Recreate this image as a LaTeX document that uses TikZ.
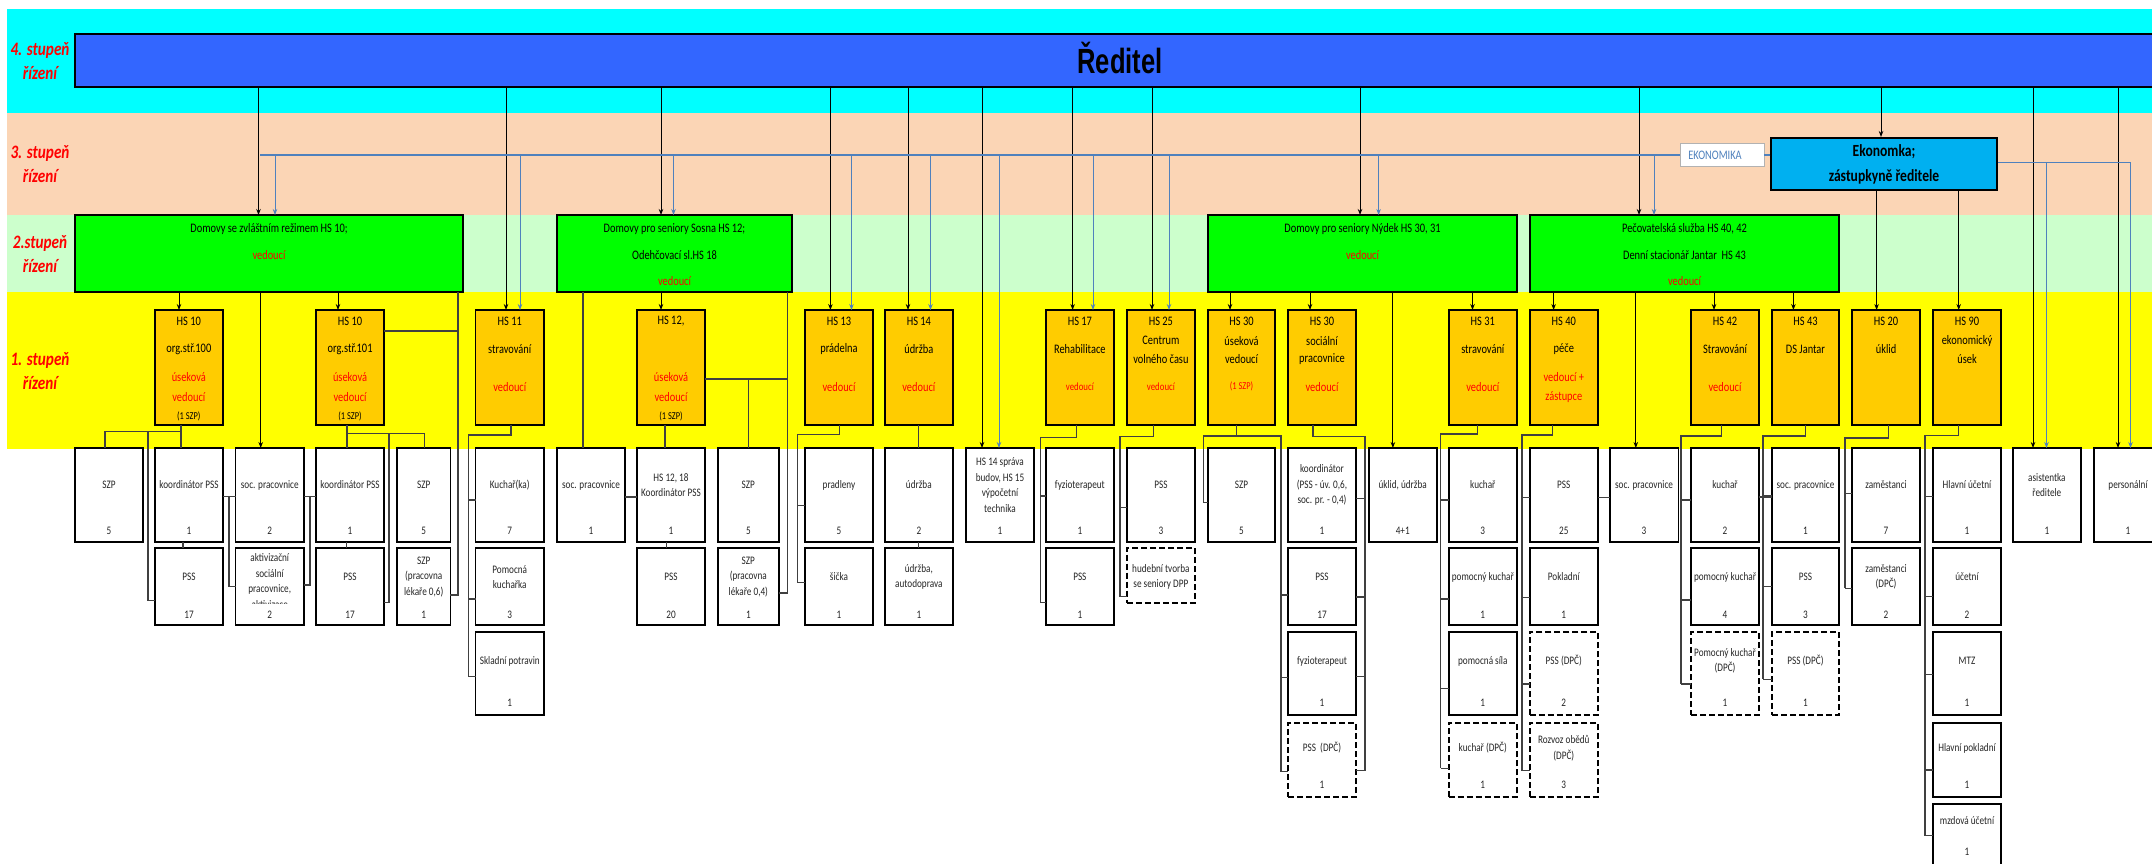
\documentclass[tikz,border=0pt]{standalone}
\usepackage{fontspec}
\setmainfont{Carlito}[FakeStretch=0.8]
\newfontfamily\rfont{Liberation Sans}[FakeStretch=0.73]
\usetikzlibrary{arrows.meta,calc}
\definecolor{cyb}{HTML}{00FFFF}
\definecolor{peach}{HTML}{FBD5B5}
\definecolor{lgr}{HTML}{CCFFCC}
\definecolor{yel}{HTML}{FFFF00}
\definecolor{dirb}{HTML}{3366FF}
\definecolor{grn}{HTML}{00FF00}
\definecolor{org}{HTML}{FFCC00}
\definecolor{ekb}{HTML}{00B0F0}
\definecolor{bluec}{HTML}{4F81BD}
\definecolor{txtg}{HTML}{262626}
\newcommand\rowdata[1]{\ifcase#1\or
 \def\rYa{448}\def\rYb{542}\def\rLy{485}\def\rCy{531}\or
 \def\rYa{548}\def\rYb{625}\def\rLy{577}\def\rCy{615}\or
 \def\rYa{632}\def\rYb{715}\def\rLy{661}\def\rCy{703}\or
 \def\rYa{723}\def\rYb{797}\def\rLy{748}\def\rCy{785}\or
 \def\rYa{804}\def\rYb{874}\def\rLy{821}\def\rCy{852}\fi}
\newcommand\WB[7][]{\rowdata{#5}%
 \node[wbox,#1,minimum width={#4-#3},minimum height={\rYb-\rYa}] (#2) at ({(#3+#4)/2},{(\rYa+\rYb)/2}) {};
 \node[wl] (#2l) at ({(#3+#4)/2},\rLy) {#6};
 \node[wl] (#2c) at ({(#3+#4)/2},\rCy) {#7};}
\newcommand\OB[3]{\node[obox,minimum width={#3-#2}] (#1) at ({(#2+#3)/2},367.5) {};}
\newcommand\OL[4][]{\node[otx,#1] at ($(#2.north)+(0,#3)$) {#4};}
\newcommand\trunk[6]{\draw[cn] (#2,0 |- #1.south) |- (#4,#3) -- (#4,#5);
 \foreach \qy/\qt/\qa in {#6} {\draw[cn] (#4,\qy) -- (\qt.\qa |- 0,\qy);}}
\begin{document}
\begin{tikzpicture}[x=1pt,y=-1pt,
 wbox/.style={draw=black,line width=1.8pt,fill=white,inner sep=0pt,outer sep=0pt},
 dbox/.style={dash pattern=on 6pt off 3pt},
 obox/.style={draw=black,line width=1.8pt,fill=org,minimum height=115,inner sep=0pt,outer sep=0pt},
 gbox/.style={draw=black,line width=2pt,fill=grn,minimum height=77,inner sep=0pt,outer sep=0pt},
 wl/.style={inner sep=0pt,align=center,text=txtg,font=\fontsize{11.5}{15.5}\selectfont},
 otx/.style={inner sep=0pt,text=black,font=\fontsize{13}{15}\selectfont},
 gtx/.style={inner sep=0pt,text=black,font=\fontsize{13}{15}\selectfont},
 rd/.style={text=red},
 sm/.style={font=\fontsize{10.5}{12}\selectfont},
 smr/.style={text=red,font=\fontsize{11}{12}\selectfont},
 bandl/.style={inner sep=0pt,align=center,text=red,font=\fontsize{19}{24}\selectfont\bfseries\itshape},
 cn/.style={draw=black!75,line width=1.1pt},
 ar/.style={draw=black,line width=0.9pt,-{Stealth[length=6pt,width=4.5pt]}},
 bar/.style={draw=bluec,line width=0.9pt,-{Stealth[length=6pt,width=4.5pt]}},
 bl/.style={draw=bluec,line width=1pt}]
\useasboundingbox (0,0) rectangle (2152,864);
\clip (0,0) rectangle (2152,864);
% bands
\fill[cyb] (7,9) rectangle (2152,113);
\fill[peach] (7,113) rectangle (2152,215);
\fill[lgr] (7,215) rectangle (2152,292);
\fill[yel] (7,292) rectangle (2152,449);
\node[bandl] (l4) at (40,61.5) {4. stupeň\\řízení};
\node[bandl] (l3) at (40,164.5) {3. stupeň\\řízení};
\node[bandl] (l2) at (40,254.5) {2.stupeň\\řízení};
\node[bandl] (l1) at (40,371.5) {1. stupeň\\řízení};
% director
\node[draw=black,line width=2pt,fill=dirb,minimum width=2090,minimum height=53,inner sep=0pt] (dir) at (1120,60.5) {};
\node[anchor=base,inner sep=0pt,font=\rfont\bfseries\fontsize{35}{40}\selectfont] (dirt) at (1120,74) {Ředitel};
% ekonomka
\node[draw=black,line width=2pt,fill=ekb,minimum width=225.5,minimum height=52,inner sep=0pt,align=center,font=\bfseries\fontsize{17}{25}\selectfont] (ek) at (1884,164) {Ekonomka;\\zástupkyně ředitele};
\node[draw=black!30,line width=0.8pt,fill=white,minimum width=84,minimum height=23,inner sep=0pt] (ekl) at (1722,154.5) {};
\node[inner sep=0pt,text=bluec,font=\fontsize{13}{15}\selectfont] (eklt) at (1715,155) {EKONOMIKA};
% green boxes
\node[gbox,minimum width=388] (g1) at (269,253.5) {};
\node[gbox,minimum width=235] (g2) at (674.5,253.5) {};
\node[gbox,minimum width=309] (g3) at (1362.5,253.5) {};
\node[gbox,minimum width=309] (g4) at (1684.5,253.5) {};
\node[gtx] (g1a) at (269,229) {Domovy se zvláštním režimem HS 10;};
\node[gtx,rd] (g1b) at (269,255) {vedoucí};
\node[gtx] (g2a) at (674.5,229) {Domovy pro seniory Sosna HS 12;};
\node[gtx] (g2b) at (674.5,255) {Odehčovací sl.HS 18};
\node[gtx,rd] (g2c) at (674.5,281) {vedoucí};
\node[gtx] (g3a) at (1362.5,229) {Domovy pro seniory Nýdek HS 30, 31};
\node[gtx,rd] (g3b) at (1362.5,255) {vedoucí};
\node[gtx] (g4a) at (1684.5,229) {Pečovatelská služba HS 40, 42};
\node[gtx] (g4b) at (1684.5,255) {Denní stacionář Jantar~ HS 43};
\node[gtx,rd] (g4c) at (1684.5,281) {vedoucí};
% orange boxes
\OB{o1}{154.6}{223}
\OL{o1}{11}{HS 10}\OL{o1}{39}{org.stř.100}\OL[rd]{o1}{66.7}{úseková}\OL[rd]{o1}{86.7}{vedoucí}\OL[sm]{o1}{106}{(1 SZP)}
\OB{o2}{315.8}{384.3}
\OL{o2}{11}{HS 10}\OL{o2}{39}{org.stř.101}\OL[rd]{o2}{66.7}{úseková}\OL[rd]{o2}{86.7}{vedoucí}\OL[sm]{o2}{106}{(1 SZP)}
\OB{o3}{475.5}{544}
\OL{o3}{11}{HS 11}\OL{o3}{39}{stravování}\OL[rd]{o3}{76.7}{vedoucí}
\OB{o4}{637}{705}
\OL{o4}{11}{HS 12,}\OL[rd]{o4}{66.7}{úseková}\OL[rd]{o4}{86.7}{vedoucí}\OL[sm]{o4}{106}{(1 SZP)}
\OB{o5}{805}{873}
\OL{o5}{11}{HS 13}\OL{o5}{39}{prádelna}\OL[rd]{o5}{76.7}{vedoucí}
\OB{o6}{884.7}{953}
\OL{o6}{11}{HS 14}\OL{o6}{39}{údržba}\OL[rd]{o6}{76.7}{vedoucí}
\OB{o7}{1045.7}{1114}
\OL{o7}{11}{HS 17}\OL{o7}{39}{Rehabilitace}\OL[smr]{o7}{76.7}{vedoucí}
\OB{o8}{1126.8}{1195}
\OL{o8}{11}{HS 25}\OL{o8}{30.7}{Centrum}\OL{o8}{49.3}{volného času}\OL[smr]{o8}{76.7}{vedoucí}
\OB{o9}{1208}{1275}
\OL{o9}{11}{HS 30}\OL{o9}{30.7}{úseková}\OL{o9}{49.3}{vedoucí}\OL[sm,rd]{o9}{76.7}{(1 SZP)}
\OB{o10}{1288}{1356}
\OL{o10}{11}{HS 30}\OL{o10}{30.7}{sociální}\OL{o10}{49.3}{pracovnice}\OL[rd]{o10}{76.7}{vedoucí}
\OB{o11}{1448.6}{1517}
\OL{o11}{11}{HS 31}\OL{o11}{39}{stravování}\OL[rd]{o11}{76.7}{vedoucí}
\OB{o12}{1529.6}{1598}
\OL{o12}{11}{HS 40}\OL{o12}{39}{péče}\OL[rd]{o12}{66.7}{vedoucí +}\OL[rd]{o12}{86.7}{zástupce}
\OB{o13}{1691}{1759}
\OL{o13}{11}{HS 42}\OL{o13}{39}{Stravování}\OL[rd]{o13}{76.7}{vedoucí}
\OB{o14}{1772}{1839}
\OL{o14}{11}{HS 43}\OL{o14}{39}{DS Jantar}
\OB{o15}{1852}{1920}
\OL{o15}{11}{HS 20}\OL{o15}{39}{úklid}
\OB{o16}{1933}{2001}
\OL{o16}{11}{HS 90}\OL{o16}{30.7}{ekonomický}\OL{o16}{49.3}{úsek}
% white boxes row 1
\WB{w1}{75}{143}{1}{SZP}{5}
\WB{w2}{155}{223}{1}{koordinátor PSS}{1}
\WB{w3}{235.5}{304}{1}{soc. pracovnice}{2}
\WB{w4}{316}{384}{1}{koordinátor PSS}{1}
\WB{w5}{397}{450.4}{1}{SZP}{5}
\WB{w6}{475.5}{544}{1}{Kuchař(ka)}{7}
\WB{w7}{557}{625}{1}{soc. pracovnice}{1}
\WB{w8}{637}{705}{1}{HS 12, 18\\Koordinátor PSS}{1}
\WB{w9}{717.7}{779}{1}{SZP}{5}
\WB{w10}{805}{873}{1}{pradleny}{5}
\WB{w11}{884.7}{953}{1}{údržba}{2}
\WB{w12}{966}{1034}{1}{HS 14 správa\\budov, HS 15\\výpočetní\\technika}{1}
\WB{w13}{1045.7}{1114}{1}{fyzioterapeut}{1}
\WB{w14}{1126.8}{1195}{1}{PSS}{3}
\WB{w15}{1208}{1275}{1}{SZP}{5}
\WB{w16}{1288}{1356}{1}{koordinátor\\(PSS - úv. 0,6,\\soc. pr. - 0,4)}{1}
\WB{w17}{1368.6}{1436.8}{1}{úklid, údržba}{4+1}
\WB{w18}{1448.6}{1517}{1}{kuchař}{3}
\WB{w19}{1529.6}{1598}{1}{PSS}{25}
\WB{w20}{1609.6}{1678.5}{1}{soc. pracovnice}{3}
\WB{w21}{1691}{1759}{1}{kuchař}{2}
\WB{w22}{1772}{1839}{1}{soc. pracovnice}{1}
\WB{w23}{1852}{1920}{1}{zaměstanci}{7}
\WB{w24}{1933}{2001}{1}{Hlavní účetní}{1}
\WB{w25}{2012.7}{2081}{1}{asistentka\\ředitele}{1}
\WB{w26}{2094}{2162}{1}{personální}{1}
% row 2
\WB{v1}{155}{223}{2}{PSS}{17}
\WB{v2}{235.5}{304}{2}{}{2}
\begin{scope}
\clip (235.5,549) rectangle (304,603);
\node[wl] (v2t) at (269.75,581) {aktivizační\\sociální\\pracovnice,\\aktivizace};
\end{scope}
\WB{v3}{316}{384}{2}{PSS}{17}
\WB{v4}{397}{450.4}{2}{SZP\\(pracovna\\lékaře 0,6)}{1}
\WB{v5}{475.5}{544}{2}{Pomocná\\kuchařka}{3}
\WB{v6}{637}{705}{2}{PSS}{20}
\WB{v7}{717.7}{779}{2}{SZP\\(pracovna\\lékaře 0,4)}{1}
\WB{v8}{805}{873}{2}{šička}{1}
\WB{v9}{884.7}{953}{2}{údržba,\\autodoprava}{1}
\WB{v10}{1045.7}{1114}{2}{PSS}{1}
\node[wbox,dbox,minimum width=68.2,minimum height=55] (v11) at (1160.9,575.5) {};
\node[wl] (v11l) at (1160.9,576.7) {hudební tvorba\\se seniory DPP};
\WB{v12}{1288}{1356}{2}{PSS}{17}
\WB{v13}{1448.6}{1517}{2}{pomocný kuchař}{1}
\WB{v14}{1529.6}{1598}{2}{Pokladní}{1}
\WB{v15}{1691}{1759}{2}{pomocný kuchař}{4}
\WB{v16}{1772}{1839}{2}{PSS}{3}
\WB{v17}{1852}{1920}{2}{zaměstanci\\(DPČ)}{2}
\WB{v18}{1933}{2001}{2}{účetní}{2}
% row 3
\WB{u1}{475.5}{544}{3}{Skladní potravin}{1}
\WB{u2}{1288}{1356}{3}{fyzioterapeut}{1}
\WB{u3}{1448.6}{1517}{3}{pomocná síla}{1}
\WB[dbox]{u4}{1529.6}{1598}{3}{PSS (DPČ)}{2}
\WB[dbox]{u5}{1691}{1759}{3}{Pomocný kuchař\\(DPČ)}{1}
\WB[dbox]{u6}{1772}{1839}{3}{PSS (DPČ)}{1}
\WB{u7}{1933}{2001}{3}{MTZ}{1}
% row 4
\WB[dbox]{t1}{1288}{1356}{4}{PSS~ (DPČ)}{1}
\WB[dbox]{t2}{1448.6}{1517}{4}{kuchař (DPČ)}{1}
\WB[dbox]{t3}{1529.6}{1598}{4}{Rozvoz obědů\\(DPČ)}{3}
\WB{t4}{1933}{2001}{4}{Hlavní pokladní}{1}
% row 5
\WB{s1}{1933}{2001}{5}{mzdová účetní}{1}
% director arrows
\foreach \x/\nd in {258.5/g1,506/o3,661/g2,830.4/o5,908/o6,982/w12,1072.6/o7,1152/o8,1360/g3,1639/g4,1881/ek,2033/w25,2118/w26}
 {\draw[ar] (\x,0 |- dir.south) -- (\x,0 |- \nd.north);}
% ekonomika bus
\coordinate (bus) at (260,155);
\draw[bl] (ek.west |- bus) -- (ekl.east |- bus);
\draw[bl] (ekl.west |- bus) -- (bus);
\foreach \x/\nd in {275/g1,520/o3,673.5/g2,851.5/o5,930.5/o6,999/w12,1093/o7,1169/o8,1378.6/g3,1654/g4}
 {\draw[bar] (\x,0 |- bus) -- (\x,0 |- \nd.north);}
\coordinate (bus2) at (2130.5,162);
\draw[bl] (ek.east |- bus2) -- (bus2);
\foreach \x/\nd in {2046.5/w25,2130.5/w26}
 {\draw[bar] (\x,0 |- bus2) -- (\x,0 |- \nd.north);}
\foreach \x/\nd in {1876.6/o15,1958.7/o16}
 {\draw[ar] (\x,0 |- ek.south) -- (\x,0 |- \nd.north);}
% level 2 down
\foreach \x/\nd in {179/o1,338/o2,260.7/w3}
 {\draw[ar] (\x,0 |- g1.south) -- (\x,0 |- \nd.north);}
\draw[cn] (458,0 |- g1.south) |- (v4.east |- 0,595);
\draw[cn] (o2.east |- 0,331) -- (458,331);
\draw[cn] (583,0 |- g2.south) -- (583,0 |- w7.north);
\draw[ar] (661,0 |- g2.south) -- (661,0 |- o4.north);
\draw[cn] (787.6,0 |- g2.south) |- (v7.east |- 0,593);
\draw[cn] (o4.east |- 0,379) -- (787.6,379);
\draw[cn] (748.6,379) -- (748.6,0 |- w9.north);
\foreach \x/\nd in {1230/o9,1310/o10,1472.5/o11,1392.9/w17}
 {\draw[ar] (\x,0 |- g3.south) -- (\x,0 |- \nd.north);}
\foreach \x/\nd in {1553.6/o12,1635.8/w20,1714/o13,1793.4/o14}
 {\draw[ar] (\x,0 |- g4.south) -- (\x,0 |- \nd.north);}
% level 1 down
\draw[cn] (181,0 |- o1.south) -- (181,0 |- w2.north);
\draw[cn] (105,0 |- w1.north) |- (181,431.7);
\draw[cn] (148,431.7) |- (v1.west |- 0,600.7);
\draw[cn] (183,0 |- w2.south) -- (183,0 |- v1.north);
\draw[cn] (w2.east |- 0,496.7) -- (w3.west |- 0,496.7);
\draw[cn] (229,496.7) |- (v2.west |- 0,586.7);
\draw[cn] (w3.east |- 0,496.7) -- (w4.west |- 0,496.7);
\draw[cn] (310,496.7) |- (v2.east |- 0,585);
\draw[cn] (347,0 |- o2.south) -- (347,0 |- w4.north);
\draw[cn] (347,433.7) -| (424.6,0 |- w5.north);
\draw[cn] (389,433.7) |- (v3.east |- 0,602.7);
\draw[cn] (346.4,0 |- w4.south) -- (346.4,0 |- v3.north);
\trunk{o3}{511}{435}{468.3}{676.7}{500/w6/west,599/v5/west,676.7/u1/west}
\draw[cn] (665,0 |- o4.south) -- (665,0 |- w8.north);
\draw[cn] (666.7,0 |- w8.south) -- (666.7,0 |- v6.north);
\draw[cn] (w7.east |- 0,497) -- (w8.west |- 0,497);
\trunk{o5}{839.6}{434.3}{797.5}{582.7}{505.7/w10/west,582.7/v8/west}
\draw[cn] (918.8,0 |- o6.south) -- (918.8,0 |- w11.north);
\draw[cn] (918.8,0 |- w11.south) -- (918.8,0 |- v9.north);
\trunk{o7}{1076.8}{437.3}{1040.7}{602.7}{496/w13/west,602.7/v10/west}
\trunk{o8}{1153.6}{436.7}{1120}{596.7}{507.7/w14/west,596.7/v11/west}
\trunk{o9}{1236.4}{436}{1281}{771.7}{595/v12/west,677.7/u2/west,771.7/t1/west}
\draw[cn] (1236.4,436) -| (1203.6,502.3) -- (w15.west |- 0,502.3);
\trunk{o10}{1313}{436.7}{1365}{770.7}{498.3/w16/east,597/v12/east,676.7/u2/east,770.7/t1/east}
\trunk{o11}{1477.9}{434}{1440.7}{768.3}{500/w18/west,599/v13/west,688.3/u3/west,768.3/t2/west}
\trunk{o12}{1552.5}{435}{1522}{770.7}{497.3/w19/west,597.7/v14/west,684/u4/west,770.7/t3/west}
\draw[cn] (w19.east |- 0,497.3) -- (w20.west |- 0,497.3);
\trunk{o13}{1721.6}{436}{1681}{684}{500/w21/west,600/v15/west,684/u5/west}
\draw[cn] (w21.east |- 0,497) -- (w22.west |- 0,497);
\trunk{o14}{1805.5}{436}{1763}{679.3}{496/w22/west,586.7/v16/west,679.3/u6/west}
\trunk{o15}{1888.3}{438}{1845}{588.3}{493.3/w23/west,588.3/v17/west}
\trunk{o16}{1958.3}{435.3}{1925}{835.7}{496.7/w24/west,596.7/v18/west,674.3/u7/west,770/t4/west,835.7/s1/west}
\end{tikzpicture}
\end{document}
